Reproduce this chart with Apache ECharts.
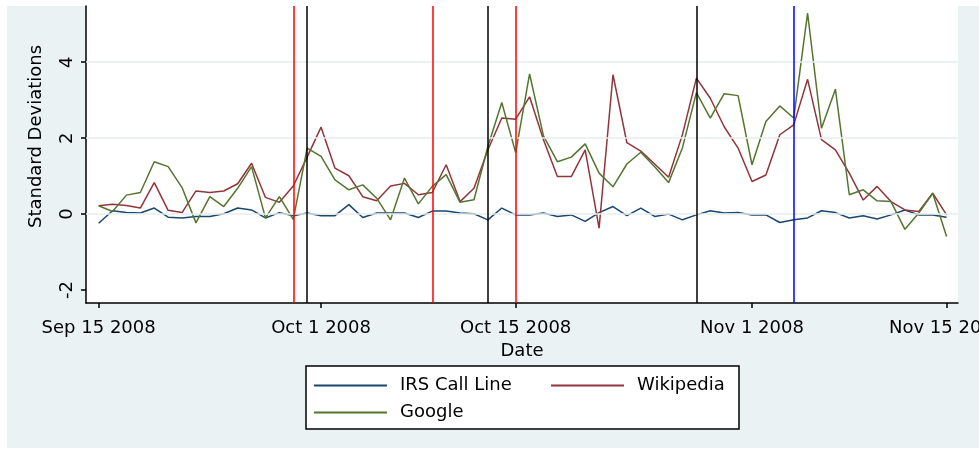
<!DOCTYPE html>
<html>
<head>
<meta charset="utf-8">
<script src="https://cdn.jsdelivr.net/npm/echarts@6/dist/echarts.min.js"></script>
<style>
  html, body { margin: 0; padding: 0; background: #fff; }
  #chart { width: 979px; height: 453px; }
</style>
</head>
<body>
<div id="chart"></div>
<script>
// daily values, day 0 = Sep 15 2008 ... day 61 = Nov 15 2008
const irs = [
  -0.24, 0.09, 0.04, 0.03, 0.16, -0.08, -0.10, -0.06, -0.06, 0.01,
  0.16, 0.11, -0.10, 0.04, -0.04, 0.03, -0.04, -0.04, 0.25, -0.09,
  0.03, 0.03, 0.03, -0.09, 0.08, 0.08, 0.03, 0.01, -0.15, 0.16,
  -0.02, -0.02, 0.03, -0.06, -0.02, -0.19, 0.04, 0.20, -0.04, 0.16,
  -0.06, 0.00, -0.15, -0.02, 0.09, 0.03, 0.04, -0.02, -0.02, -0.22,
  -0.15, -0.10, 0.09, 0.04, -0.10, -0.04, -0.13, -0.02, 0.11, -0.02,
  -0.02, -0.08
];
const wikipedia = [
  0.22, 0.26, 0.23, 0.16, 0.83, 0.10, 0.04, 0.61, 0.57, 0.61,
  0.80, 1.34, 0.44, 0.31, 0.74, 1.50, 2.29, 1.21, 1.01, 0.46,
  0.35, 0.74, 0.81, 0.51, 0.57, 1.30, 0.33, 0.68, 1.69, 2.53,
  2.50, 3.09, 1.96, 0.99, 0.99, 1.69, -0.37, 3.67, 1.88, 1.66,
  1.32, 0.97, 2.10, 3.58, 3.05, 2.30, 1.74, 0.86, 1.03, 2.09,
  2.35, 3.55, 1.96, 1.69, 1.08, 0.37, 0.73, 0.33, 0.11, 0.07,
  0.55, -0.02
];
const google = [
  0.22, 0.07, 0.50, 0.57, 1.38, 1.25, 0.70, -0.23, 0.46, 0.20,
  0.68, 1.25, -0.10, 0.46, -0.14, 1.74, 1.52, 0.90, 0.64, 0.77,
  0.42, -0.15, 0.95, 0.27, 0.73, 1.04, 0.31, 0.38, 1.78, 2.94,
  1.62, 3.69, 2.06, 1.38, 1.50, 1.85, 1.08, 0.72, 1.32, 1.63,
  1.25, 0.83, 1.75, 3.20, 2.53, 3.17, 3.12, 1.30, 2.44, 2.85,
  2.53, 5.29, 2.26, 3.29, 0.51, 0.64, 0.35, 0.33, -0.40, 0.03,
  0.55, -0.59
];

// x tick positions (days after Sep 15) and their labels
const tickDays = [0, 16, 30, 47, 61];
const tickLabels = ['Sep 15 2008', 'Oct 1 2008', 'Oct 15 2008', 'Nov 1 2008', 'Nov 15 2008'];
const yTicks = [-2, 0, 2, 4];
const gridValues = [0, 2, 4];

// vertical event lines (days after Sep 15)
const eventDays = [14, 15, 24, 28, 30, 43, 50];
const eventColors = ['#ff0000', '#000000', '#ff0000', '#000000', '#ff0000', '#000000', '#0000ff'];

const FONT = 'DejaVu Sans';
const toPairs = arr => arr.map((v, i) => [i, v]);

const chart = echarts.init(document.getElementById('chart'));

const txt = { fontFamily: FONT, fontSize: 18, color: '#000' };

const option = {
  animation: false,
  graphic: [{
    type: 'rect',
    z: -100,
    silent: true,
    shape: { x: 7, y: 6, width: 972, height: 442 },
    style: { fill: '#eaf2f3' }
  }],
  grid: {
    left: 86, top: 6, right: 21, bottom: 150,
    outerBoundsMode: 'none',
    containLabel: false,
    show: true, backgroundColor: '#fff', borderWidth: 0
  },
  xAxis: {
    type: 'value',
    min: -0.91,
    max: 61.82,
    name: 'Date',
    nameLocation: 'middle',
    nameGap: 31,
    nameTextStyle: txt,
    axisLine: { show: true, onZero: false, lineStyle: { color: '#000', width: 1.5 } },
    axisTick: { show: true, length: 5, customValues: tickDays, lineStyle: { color: '#000', width: 1.5 } },
    axisLabel: {
      customValues: tickDays,
      formatter: v => tickLabels[tickDays.indexOf(v)],
      margin: 16,
      hideOverlap: false,
      ...txt
    },
    splitLine: { show: false }
  },
  yAxis: {
    type: 'value',
    min: -2.34,
    max: 5.48,
    name: 'Standard Deviations',
    nameLocation: 'middle',
    nameRotate: 90,
    nameGap: 41,
    nameTextStyle: { ...txt, padding: [0, 0, 0, 36] },
    axisLine: { show: true, onZero: false, lineStyle: { color: '#000', width: 1.5 } },
    axisTick: { show: true, length: 5, customValues: yTicks, lineStyle: { color: '#000', width: 1.5 } },
    axisLabel: { customValues: yTicks, rotate: 90, margin: 10, ...txt },
    splitLine: { show: false }
  },
  legend: {
    left: 306,
    top: 366,
    width: 420,
    orient: 'horizontal',
    padding: [9, 7, 6, 8],
    itemGap: 6,
    itemWidth: 73,
    itemHeight: 2,
    icon: 'rect',
    backgroundColor: '#fff',
    borderColor: '#000',
    borderWidth: 1.5,
    textStyle: { ...txt, lineHeight: 21, padding: [0, 0, 0, 8] },
    data: [
      { name: 'IRS Call Line', textStyle: { ...txt, lineHeight: 21, padding: [0, 0, 0, 8], width: 145 } },
      { name: 'Wikipedia', textStyle: { ...txt, lineHeight: 21, padding: [0, 0, 0, 8], width: 95 } },
      { name: 'Google', textStyle: { ...txt, lineHeight: 21, padding: [0, 0, 0, 8] } }
    ]
  },
  series: [
    {
      // light horizontal grid lines
      name: 'grid', type: 'line', data: [], z: 1, silent: true,
      markLine: {
        silent: true, symbol: ['none', 'none'], label: { show: false },
        lineStyle: { color: '#e6eeee', width: 1.5, type: 'solid' },
        data: gridValues.map(v => ({ yAxis: v }))
      }
    },
    {
      // event lines
      name: 'events', type: 'line', data: [], z: 2, silent: true,
      markLine: {
        silent: true, symbol: ['none', 'none'], label: { show: false },
        data: eventDays.map((d, i) => ({ xAxis: d, lineStyle: { color: eventColors[i], width: 1.5, type: 'solid' } }))
      }
    },
    {
      name: 'IRS Call Line', type: 'line', data: toPairs(irs), z: 3,
      showSymbol: false, symbol: 'none', color: '#1a476f',
      lineStyle: { color: '#1a476f', width: 1.5 }
    },
    {
      name: 'Wikipedia', type: 'line', data: toPairs(wikipedia), z: 3,
      showSymbol: false, symbol: 'none', color: '#90353b',
      lineStyle: { color: '#90353b', width: 1.5 }
    },
    {
      name: 'Google', type: 'line', data: toPairs(google), z: 3,
      showSymbol: false, symbol: 'none', color: '#55752f',
      lineStyle: { color: '#55752f', width: 1.5 }
    }
  ]
};

chart.setOption(option);
</script>
</body>
</html>
